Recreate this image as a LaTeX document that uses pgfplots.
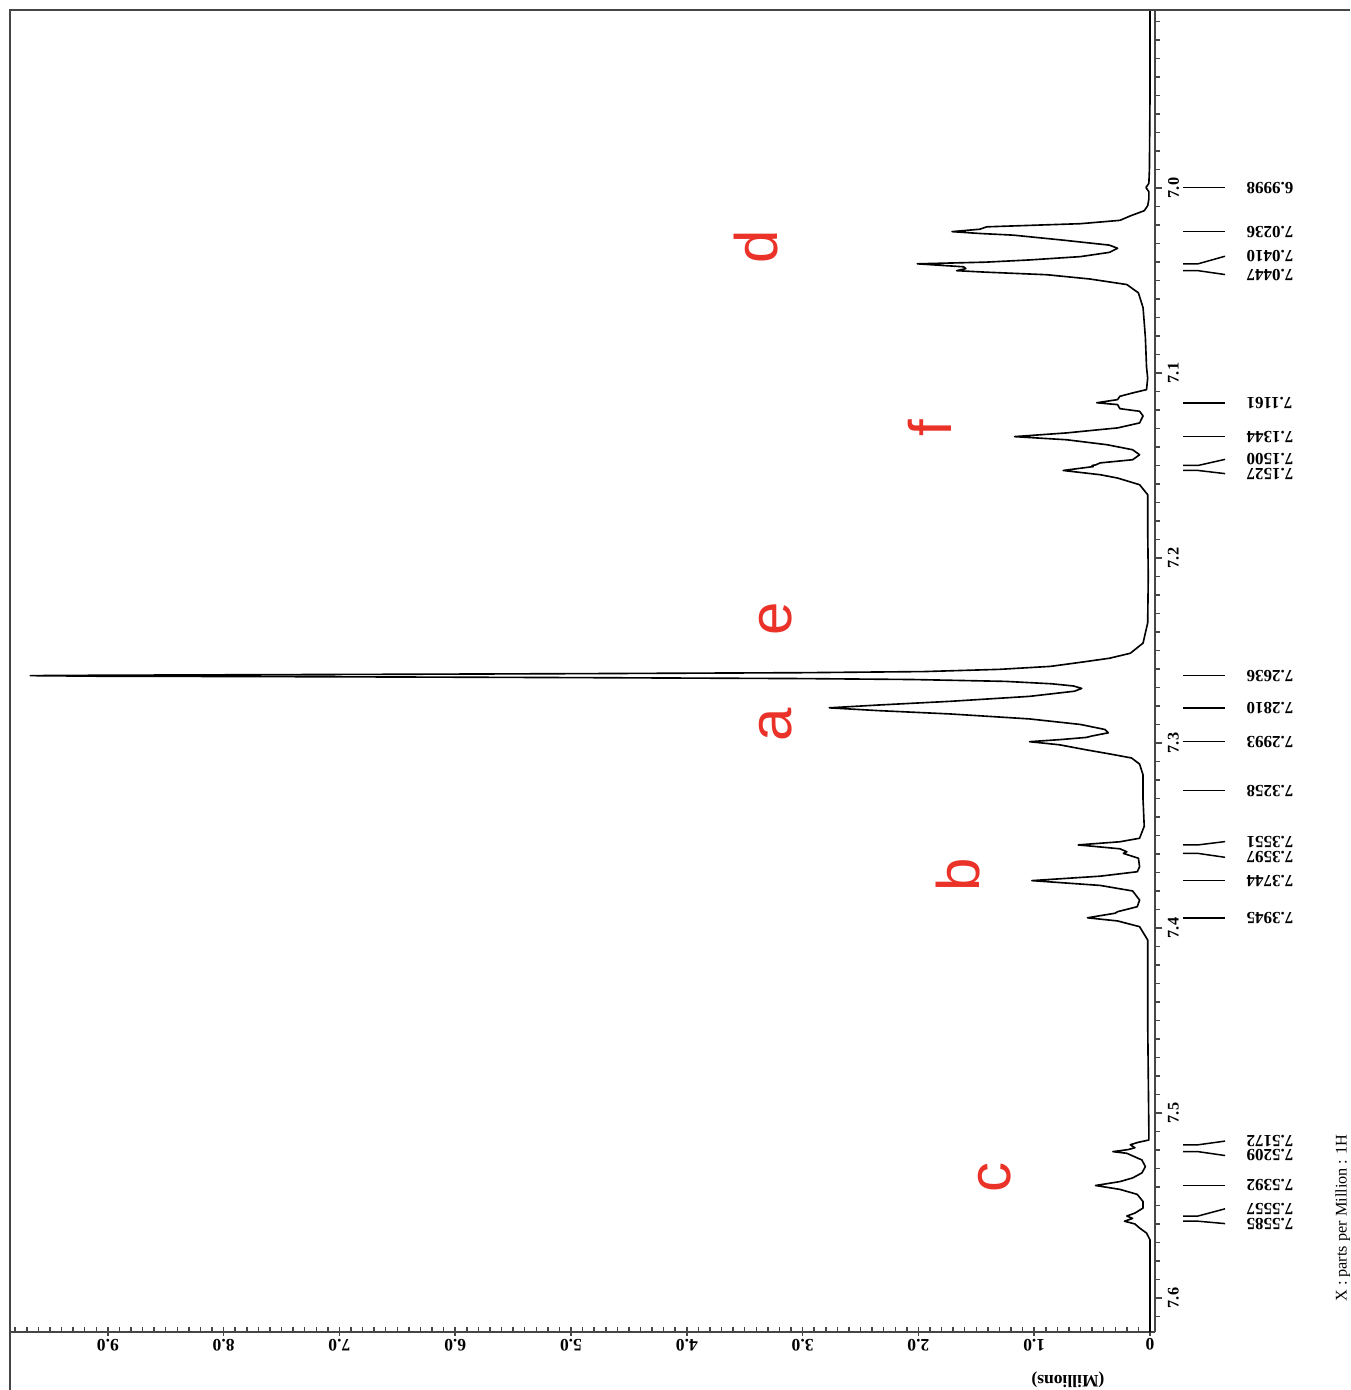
\documentclass[border=0pt]{standalone}
\usepackage{fontspec}
\setmainfont{Liberation Serif}
\newfontfamily\arialf{Liberation Sans}
\usepackage{pgfplots}
\pgfplotsset{compat=1.18}
\definecolor{lblred}{RGB}{235,50,40}
\definecolor{axgray}{RGB}{70,70,70}
\tikzset{
  pk/.style={line width=0.6pt, black},
  pl/.style={rotate=180, anchor=east, inner sep=0pt, font=\fontsize{6.8}{7}\selectfont\bfseries},
  lt/.style={rotate=90, inner sep=0pt, text=lblred, font=\arialf\fontsize{24}{28}\selectfont}
}
\begin{document}
\begin{tikzpicture}
\useasboundingbox (-4pt,-23.2pt) rectangle (536pt,532.8pt);
\begin{axis}[
  scale only axis, width=458pt, height=528.8pt,
  x dir=reverse, y dir=reverse,
  xmin=-0.043, xmax=9.845, ymin=6.9038, ymax=7.6184,
  axis x line*=bottom, axis y line*=right,
  axis line style={line width=1pt, axgray},
  xtick={0,1,2,3,4,5,6,7,8,9},
  xticklabels={0,1.0,2.0,3.0,4.0,5.0,6.0,7.0,8.0,9.0},
  minor xtick={0.1,0.2,...,9.8},
  ytick={7.0,7.1,7.2,7.3,7.4,7.5,7.6},
  yticklabels={7.0,7.1,7.2,7.3,7.4,7.5,7.6},
  minor ytick={6.91,6.92,...,7.615},
  xtick align=inside, ytick align=outside,
  major tick length=3pt, minor tick length=2.2pt,
  tick style={axgray, line width=0.6pt},
  major x tick style={yshift=-1.5pt},
  xticklabel style={yshift=-1.5pt, rotate=180, anchor=south, inner sep=1pt, font=\fontsize{7}{8}\selectfont\bfseries},
  yticklabel style={xshift=1pt, rotate=90, anchor=north, inner sep=1pt, font=\fontsize{6.5}{7}\selectfont\bfseries},
  /pgf/number format/assume math mode=true,
  clip=false,
  xlabel={(Millions)},
  xlabel style={at={(axis description cs:0.924,-0.0363)}, rotate=180, anchor=center, font=\fontsize{7}{8}\selectfont\bfseries},
  ylabel={X : parts per Million : 1H},
  ylabel style={at={(axis description cs:1.164,0.0862)}, anchor=center, font=\fontsize{6.5}{7}\selectfont},
]
\addplot[black, line width=0.65pt, line join=round, mark=none] coordinates {
(0.00,6.9038) (0.00,6.9500) (0.005,6.9900) (0.01,6.9975) (0.035,6.9998) (0.01,7.0020)
(0.01,7.0060) (0.02,7.0096) (0.05,7.0123) (0.17,7.0151) (0.26,7.0175) (0.60,7.0193)
(1.41,7.0210) (1.47,7.0223) (1.71,7.0236) (1.47,7.0246) (1.18,7.0255) (0.75,7.0282)
(0.35,7.0309) (0.28,7.0326) (0.35,7.0348) (0.60,7.0371) (1.04,7.0389) (1.42,7.0401)
(2.01,7.0410) (1.61,7.0426) (1.59,7.0436) (1.67,7.0447) (1.42,7.0455) (0.89,7.0469)
(0.52,7.0492) (0.20,7.0522) (0.10,7.0567) (0.06,7.0647) (0.04,7.0807) (0.03,7.0968)
(0.02,7.1027) (0.03,7.1090) (0.15,7.1108) (0.26,7.1126) (0.28,7.1144) (0.46,7.1161)
(0.28,7.1171) (0.26,7.1193) (0.09,7.1207) (0.06,7.1232) (0.09,7.1270) (0.28,7.1297)
(0.43,7.1306) (0.72,7.1324) (1.17,7.1344) (0.72,7.1361) (0.37,7.1388) (0.15,7.1415)
(0.09,7.1442) (0.15,7.1469) (0.43,7.1486) (0.47,7.1497) (0.50,7.1500) (0.49,7.1506)
(0.75,7.1527) (0.43,7.1550) (0.28,7.1568) (0.09,7.1604) (0.02,7.1658) (0.02,7.1838)
(0.015,7.2100) (0.02,7.2351) (0.06,7.2460) (0.17,7.2515) (0.35,7.2542) (0.60,7.2564)
(0.86,7.2586) (1.30,7.2602) (1.95,7.2614) (2.98,7.2620) (4.84,7.2625) (6.19,7.2628)
(7.74,7.2631) (9.10,7.2634) (9.67,7.2636) (9.10,7.2639) (7.74,7.2641) (6.19,7.2644)
(4.84,7.2647) (2.98,7.2652) (2.05,7.2657) (1.25,7.2667) (0.85,7.2680) (0.66,7.2692)
(0.59,7.2705) (0.65,7.2720) (1.04,7.2748) (1.73,7.2775) (2.35,7.2795) (2.77,7.2810)
(2.35,7.2825) (1.73,7.2843) (1.04,7.2870) (0.60,7.2900) (0.39,7.2927) (0.36,7.2945)
(0.50,7.2962) (0.55,7.2970) (0.78,7.2982) (1.04,7.2993) (0.78,7.3010) (0.56,7.3036)
(0.35,7.3059) (0.16,7.3081) (0.09,7.3114) (0.06,7.3173) (0.06,7.3308) (0.05,7.3450)
(0.09,7.3515) (0.26,7.3534) (0.62,7.3551) (0.26,7.3572) (0.20,7.3588) (0.23,7.3597)
(0.10,7.3623) (0.09,7.3669) (0.11,7.3696) (0.43,7.3720) (1.02,7.3744) (0.43,7.3770)
(0.15,7.3800) (0.09,7.3849) (0.11,7.3885) (0.28,7.3912) (0.30,7.3920) (0.54,7.3945)
(0.28,7.3962) (0.09,7.3993) (0.02,7.4065) (0.02,7.4500) (0.01,7.5092) (0.01,7.5146)
(0.11,7.5160) (0.17,7.5172) (0.13,7.5188) (0.19,7.5198) (0.32,7.5209) (0.20,7.5218)
(0.15,7.5232) (0.07,7.5254) (0.04,7.5290) (0.07,7.5324) (0.15,7.5351) (0.26,7.5371)
(0.47,7.5392) (0.26,7.5413) (0.11,7.5440) (0.06,7.5479) (0.06,7.5514) (0.13,7.5541)
(0.20,7.5557) (0.15,7.5570) (0.22,7.5585) (0.13,7.5600) (0.09,7.5622) (0.03,7.5649)
(0.00,7.5686) (0.00,7.6184)
};
% single peak labels
\draw[pk] (-0.285,6.9998) -- (-0.648,6.9998); \node[pl] at (-0.83,6.9998) {6.9998};
\draw[pk] (-0.285,7.0236) -- (-0.648,7.0236); \node[pl] at (-0.83,7.0236) {7.0236};
\draw[pk] (-0.285,7.1161) -- (-0.648,7.1161); \node[pl] at (-0.83,7.1161) {7.1161};
\draw[pk] (-0.285,7.1344) -- (-0.648,7.1344); \node[pl] at (-0.83,7.1344) {7.1344};
\draw[pk] (-0.285,7.2636) -- (-0.648,7.2636); \node[pl] at (-0.83,7.2636) {7.2636};
\draw[pk] (-0.285,7.2810) -- (-0.648,7.2810); \node[pl] at (-0.83,7.2810) {7.2810};
\draw[pk] (-0.285,7.2993) -- (-0.648,7.2993); \node[pl] at (-0.83,7.2993) {7.2993};
\draw[pk] (-0.285,7.3258) -- (-0.648,7.3258); \node[pl] at (-0.83,7.3258) {7.3258};
\draw[pk] (-0.285,7.3744) -- (-0.648,7.3744); \node[pl] at (-0.83,7.3744) {7.3744};
\draw[pk] (-0.285,7.3945) -- (-0.648,7.3945); \node[pl] at (-0.83,7.3945) {7.3945};
\draw[pk] (-0.285,7.5392) -- (-0.648,7.5392); \node[pl] at (-0.83,7.5392) {7.5392};
% paired peak labels
\draw[pk] (-0.285,7.0410) -- (-0.415,7.0410) -- (-0.648,7.0369); \node[pl] at (-0.83,7.0369) {7.0410};
\draw[pk] (-0.285,7.0447) -- (-0.415,7.0447) -- (-0.648,7.0468); \node[pl] at (-0.83,7.0468) {7.0447};
\draw[pk] (-0.285,7.1500) -- (-0.415,7.1500) -- (-0.648,7.1467); \node[pl] at (-0.83,7.1467) {7.1500};
\draw[pk] (-0.285,7.1527) -- (-0.415,7.1527) -- (-0.648,7.1544); \node[pl] at (-0.83,7.1544) {7.1527};
\draw[pk] (-0.285,7.3551) -- (-0.415,7.3551) -- (-0.648,7.3533); \node[pl] at (-0.83,7.3533) {7.3551};
\draw[pk] (-0.285,7.3597) -- (-0.415,7.3597) -- (-0.648,7.3618); \node[pl] at (-0.83,7.3618) {7.3597};
\draw[pk] (-0.285,7.5172) -- (-0.415,7.5172) -- (-0.648,7.5152); \node[pl] at (-0.83,7.5152) {7.5172};
\draw[pk] (-0.285,7.5209) -- (-0.415,7.5209) -- (-0.648,7.5230); \node[pl] at (-0.83,7.5230) {7.5209};
\draw[pk] (-0.285,7.5557) -- (-0.415,7.5557) -- (-0.648,7.5518); \node[pl] at (-0.83,7.5518) {7.5557};
\draw[pk] (-0.285,7.5585) -- (-0.415,7.5585) -- (-0.648,7.5598); \node[pl] at (-0.83,7.5598) {7.5585};
% group letters
\node[lt] at (3.40,7.0316) {d};
\node[lt] at (1.90,7.1297) {f};
\node[lt] at (3.23,7.2328) {e};
\node[lt] at (3.23,7.2902) {a};
\node[lt] at (1.66,7.3714) {b};
\node[lt] at (1.34,7.5351) {c};
\end{axis}
\draw[line width=0.9pt, axgray] (0pt,-23.2pt) -- (0pt,528.8pt) -- (536pt,528.8pt);
\end{tikzpicture}
\end{document}
